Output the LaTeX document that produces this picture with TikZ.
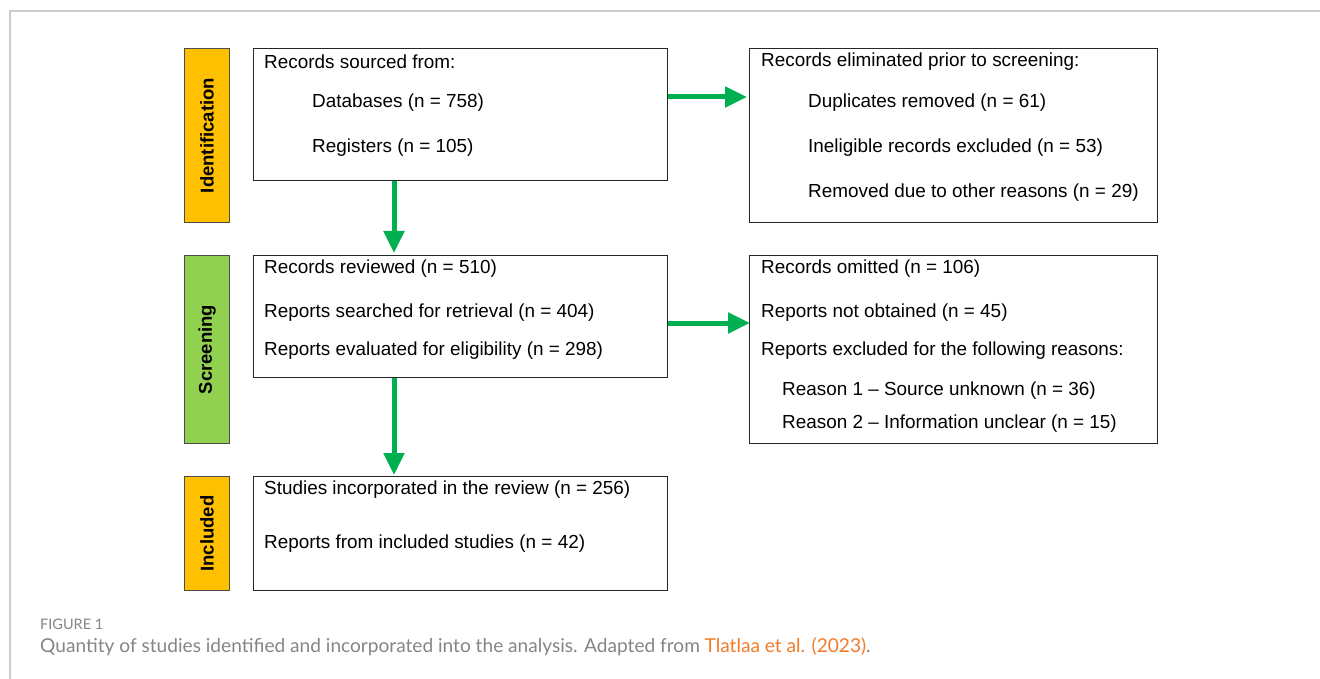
\documentclass[tikz,border=0pt]{standalone}
\usepackage{fontspec}
\setmainfont{Liberation Sans}
\newfontfamily\capfont{Lato}
\usepackage{xcolor}
\usetikzlibrary{arrows.meta}
\definecolor{barorange}{HTML}{FFC000}
\definecolor{bargreen}{HTML}{92D050}
\definecolor{arrgreen}{HTML}{00B050}
\definecolor{capgray}{HTML}{858585}
\definecolor{reforange}{HTML}{F07B2A}

\begin{document}
\begin{tikzpicture}[x=1pt, y=-1pt,
	box/.style={draw=black!85, line width=1.1pt, anchor=north west, inner sep=0pt},
	stage/.style={draw=black!70, line width=1.1pt, anchor=north west, inner sep=0pt, minimum width=45pt},
	stagetext/.style={rotate=90, font=\fontsize{18.5}{20}\selectfont\bfseries},
	txt/.style={anchor=west, inner sep=0pt, font=\fontsize{18.9}{20}\selectfont},
	arr/.style={draw=arrgreen, line width=5pt, -{Triangle[length=22pt, width=20pt]}}]
	
	\useasboundingbox (0,0) rectangle (1320,679);
	\draw[black!20, line width=1.2pt] (1320,11) -- (10,11) -- (10,679);
	
	% stage bars
	\node[stage, fill=barorange, minimum height=174pt] (ident) at (184,48) {};
	\node[stage, fill=bargreen, minimum height=188pt] (screen) at (184,255) {};
	\node[stage, fill=barorange, minimum height=114pt] (incl) at (184,476) {};
	\node[stagetext] at (ident.center) {Identification};
	\node[stagetext] at (screen.center) {Screening};
	\node[stagetext] at (incl.center) {Included};
	
	% boxes
	\node[box, minimum width=414pt, minimum height=132pt] (sourced) at (253,48) {};
	\node[box, minimum width=408pt, minimum height=174pt] (elim) at (749,48) {};
	\node[box, minimum width=414pt, minimum height=122pt] (review) at (253,255) {};
	\node[box, minimum width=408pt, minimum height=188pt] (omit) at (749,255) {};
	\node[box, minimum width=414pt, minimum height=114pt] (studies) at (253,476) {};
	
	% texts
	\node[txt] (s1) at (264,62) {Records sourced from:};
	\node[txt] (s2) at (312,103) {Databases (n = 758)};
	\node[txt] (s3) at (312,148) {Registers (n = 105)};
	
	\node[txt] (e1) at (761,62) {Records eliminated prior to screening:};
	\node[txt] (e2) at (808,103) {Duplicates removed (n = 61)};
	\node[txt] (e3) at (808,148) {Ineligible records excluded (n = 53)};
	\node[txt] (e4) at (808,193) {Removed due to other reasons (n = 29)};
	
	\node[txt] (r1) at (264,269) {Records reviewed (n = 510)};
	\node[txt] (r2) at (264,313) {Reports searched for retrieval (n = 404)};
	\node[txt] (r3) at (264,351) {Reports evaluated for eligibility (n = 298)};
	
	\node[txt] (o1) at (761,269) {Records omitted (n = 106)};
	\node[txt] (o2) at (761,313) {Reports not obtained (n = 45)};
	\node[txt] (o3) at (761,351) {Reports excluded for the following reasons:};
	\node[txt] (o4) at (782,391) {Reason 1 -- Source unknown (n = 36)};
	\node[txt] (o5) at (782,424) {Reason 2 -- Information unclear (n = 15)};
	
	\node[txt] (i1) at (264,490) {Studies incorporated in the review (n = 256)};
	\node[txt] (i2) at (264,544) {Reports from included studies (n = 42)};
	
	% arrows
	\draw[arr] ([xshift=141pt]sourced.south west) -- ([xshift=141pt, yshift=2pt]review.north west);
	\draw[arr] ([xshift=141pt]review.south west) -- ([xshift=141pt, yshift=1pt]studies.north west);
	\draw[arr] ([yshift=-49pt]sourced.north east) -- ([xshift=-2pt, yshift=-49pt]elim.north west);
	\draw[arr] ([yshift=-68pt]review.north east) -- ([xshift=1pt, yshift=-68pt]omit.north west);
	
	% caption
	\node[anchor=west, inner sep=0pt, text=capgray, font=\capfont\fontsize{14.5}{16}\selectfont] (fig) at (40,624) {FIGURE 1};
	\node[anchor=west, inner sep=0pt, text=capgray, font=\capfont\fontsize{19.1}{21}\selectfont] (cap) at (40,647)
		{Quantity of studies identified and incorporated into the analysis. Adapted from \textcolor{reforange}{Tlatlaa et al. (2023)}.};
\end{tikzpicture}
\end{document}
